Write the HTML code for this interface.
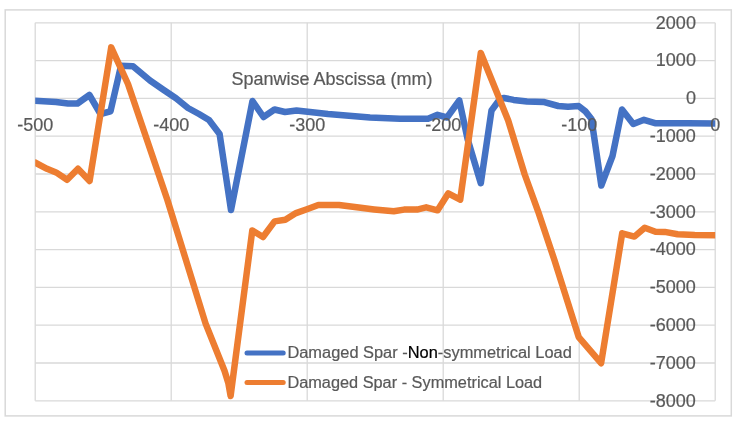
<!DOCTYPE html>
<html><head><meta charset="utf-8"><title>Chart</title>
<style>
html,body{margin:0;padding:0;background:#fff;}
body{width:738px;height:424px;overflow:hidden;}
svg{display:block;}
text{font-family:'Liberation Sans', Arial, sans-serif;}
.t{fill:#595959;stroke:#595959;stroke-width:0.2;}
</style></head>
<body>
<svg width="738" height="424" viewBox="0 0 738 424">
<rect width="738" height="424" fill="#fff"/>
<rect x="5.2" y="9.9" width="726.1" height="406" fill="none" stroke="#d9d9d9" stroke-width="1.5"/>
<line x1="35.2" y1="22.80" x2="715.2" y2="22.80" stroke="#d9d9d9" stroke-width="1.3"/>
<line x1="35.2" y1="60.60" x2="715.2" y2="60.60" stroke="#d9d9d9" stroke-width="1.3"/>
<line x1="35.2" y1="98.40" x2="715.2" y2="98.40" stroke="#d9d9d9" stroke-width="1.3"/>
<line x1="35.2" y1="136.20" x2="715.2" y2="136.20" stroke="#d9d9d9" stroke-width="1.3"/>
<line x1="35.2" y1="174.00" x2="715.2" y2="174.00" stroke="#d9d9d9" stroke-width="1.3"/>
<line x1="35.2" y1="211.80" x2="715.2" y2="211.80" stroke="#d9d9d9" stroke-width="1.3"/>
<line x1="35.2" y1="249.60" x2="715.2" y2="249.60" stroke="#d9d9d9" stroke-width="1.3"/>
<line x1="35.2" y1="287.40" x2="715.2" y2="287.40" stroke="#d9d9d9" stroke-width="1.3"/>
<line x1="35.2" y1="325.20" x2="715.2" y2="325.20" stroke="#d9d9d9" stroke-width="1.3"/>
<line x1="35.2" y1="363.00" x2="715.2" y2="363.00" stroke="#d9d9d9" stroke-width="1.3"/>
<line x1="35.2" y1="400.80" x2="715.2" y2="400.80" stroke="#d9d9d9" stroke-width="1.3"/>
<line x1="35.20" y1="22.8" x2="35.20" y2="400.80" stroke="#d9d9d9" stroke-width="1.3"/>
<line x1="171.20" y1="22.8" x2="171.20" y2="400.80" stroke="#d9d9d9" stroke-width="1.3"/>
<line x1="307.20" y1="22.8" x2="307.20" y2="400.80" stroke="#d9d9d9" stroke-width="1.3"/>
<line x1="443.20" y1="22.8" x2="443.20" y2="400.80" stroke="#d9d9d9" stroke-width="1.3"/>
<line x1="579.20" y1="22.8" x2="579.20" y2="400.80" stroke="#d9d9d9" stroke-width="1.3"/>
<line x1="715.20" y1="22.8" x2="715.20" y2="400.80" stroke="#d9d9d9" stroke-width="1.3"/>
<defs><clipPath id="pa"><rect x="35.2" y="0" width="680" height="424"/></clipPath></defs><g clip-path="url(#pa)">
<polyline points="34,100.8 56,102 68,103.5 77.5,103.5 89.4,95 100.5,114 110.5,111.3 121,65.8 133,66.3 150,80.5 163,89.5 176,98.2 188,108 199,114 209,120 219.6,134 231,210 252.5,101 263.5,117 274.5,109.5 285,112 296.5,110.6 328,114 370,117.4 400,118.7 428,118.7 437.5,114.8 447,117.5 459.3,100.5 467.7,139.5 480.8,183.2 491.5,110.5 500,99 504,98 513.6,99.9 527,101.5 543.4,101.9 558.3,106 568,106.7 578.6,106 585.4,111.4 591.5,119 601.3,185.5 612.5,156 622,109.5 633.3,124 644,119.8 655,123.2 688,123.2 717,123.6" fill="none" stroke="#4472c4" stroke-width="6.5" stroke-linejoin="round" stroke-linecap="butt"/>
<polyline points="34,162 47,168.8 56.1,172.4 67.1,179.8 78,168.8 89.6,181 111.2,47.4 128,84 147,140 167.4,200 205.6,323.6 224.5,370.8 228.3,383 230.6,396 252.3,230.4 263,237 274.6,221.4 285.3,219.7 296,213.1 307.6,209 318.3,205 339,205.1 360.7,207.8 374.2,209.4 393.8,211.3 404,209.6 417,209.6 426.2,207.3 437.6,210.3 448.2,193.4 460.2,199.7 480.8,53 508.2,120.5 524.7,174.5 537.9,210.8 554.4,260 578.7,337.1 601.1,363.2 622.2,233.3 634.4,236.6 644.7,227.8 655.5,231.8 664.8,231.9 677.6,234.3 694.7,235 717,235.2" fill="none" stroke="#ed7d31" stroke-width="6.5" stroke-linejoin="round" stroke-linecap="butt"/>
</g>
<text x="231.5" y="85.1" font-size="17.5" class="t" textLength="201" lengthAdjust="spacingAndGlyphs">Spanwise Abscissa (mm)</text>
<text x="695.9" y="28.60" font-size="18" class="t" text-anchor="end">2000</text>
<text x="695.9" y="66.40" font-size="18" class="t" text-anchor="end">1000</text>
<text x="695.9" y="104.20" font-size="18" class="t" text-anchor="end">0</text>
<text x="695.9" y="142.00" font-size="18" class="t" text-anchor="end">-1000</text>
<text x="695.9" y="179.80" font-size="18" class="t" text-anchor="end">-2000</text>
<text x="695.9" y="217.60" font-size="18" class="t" text-anchor="end">-3000</text>
<text x="695.9" y="255.40" font-size="18" class="t" text-anchor="end">-4000</text>
<text x="695.9" y="293.20" font-size="18" class="t" text-anchor="end">-5000</text>
<text x="695.9" y="331.00" font-size="18" class="t" text-anchor="end">-6000</text>
<text x="695.9" y="368.80" font-size="18" class="t" text-anchor="end">-7000</text>
<text x="695.9" y="406.60" font-size="18" class="t" text-anchor="end">-8000</text>
<text x="35.20" y="131" font-size="18" class="t" text-anchor="middle">-500</text>
<text x="171.20" y="131" font-size="18" class="t" text-anchor="middle">-400</text>
<text x="307.20" y="131" font-size="18" class="t" text-anchor="middle">-300</text>
<text x="443.20" y="131" font-size="18" class="t" text-anchor="middle">-200</text>
<text x="579.20" y="131" font-size="18" class="t" text-anchor="middle">-100</text>
<text x="715.20" y="131" font-size="18" class="t" text-anchor="middle">0</text>
<line x1="247" y1="353" x2="283.2" y2="353" stroke="#4472c4" stroke-width="5" stroke-linecap="round"/>
<line x1="247" y1="382.6" x2="283.2" y2="382.6" stroke="#ed7d31" stroke-width="5" stroke-linecap="round"/>
<text x="287.4" y="358.1" font-size="15.6" class="t" textLength="284.4" lengthAdjust="spacingAndGlyphs">Damaged Spar -<tspan style="fill:#000;stroke:#000">Non</tspan>-symmetrical Load</text>
<text x="287.4" y="388.2" font-size="15.6" class="t" textLength="254.8" lengthAdjust="spacingAndGlyphs">Damaged Spar - Symmetrical Load</text>
</svg>
</body></html>
